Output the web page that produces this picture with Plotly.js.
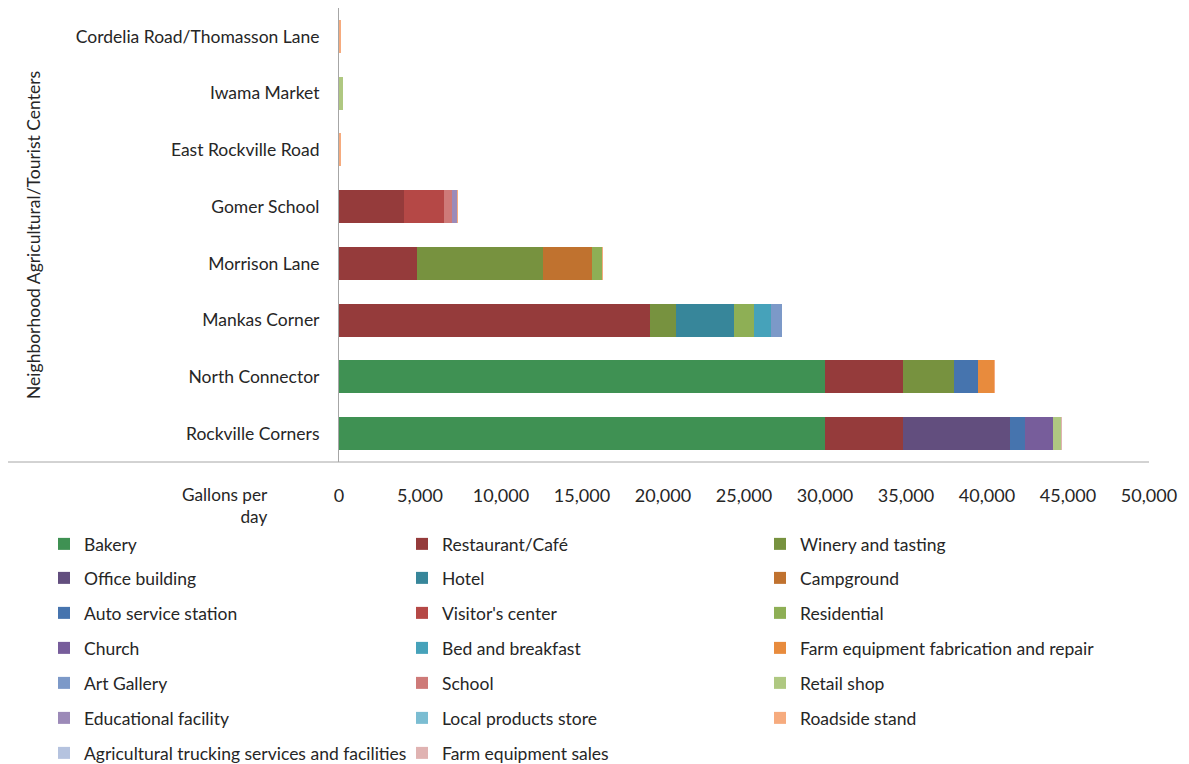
<!DOCTYPE html>
<html>
<head>
<meta charset="utf-8">
<script src="https://cdn.plot.ly/plotly-3.0.1.min.js"></script>
<style>html,body{margin:0;padding:0;background:#fff;}#chart{width:1189px;height:764px;}</style>
</head>
<body>
<div id="chart"></div>
<script>
// Categories (bottom to top)
const centers = ["Rockville Corners", "North Connector", "Mankas Corner", "Morrison Lane",
  "Gomer School", "East Rockville Road", "Iwama Market", "Cordelia Road/Thomasson Lane"];

const seriesNames = ["Bakery", "Restaurant/Café", "Winery and tasting", "Office building", "Hotel",
  "Campground", "Auto service station", "Visitor's center", "Residential", "Church",
  "Bed and breakfast", "Farm equipment fabrication and repair", "Art Gallery", "School",
  "Retail shop", "Educational facility", "Local products store", "Roadside stand",
  "Agricultural trucking services and facilities", "Farm equipment sales"];

const seriesColors = ["#3F9153", "#953B3B", "#77923F", "#624E7E", "#37869A", "#C0722F",
  "#4674AE", "#B54846", "#8EAF55", "#775D9B", "#46A2BA", "#E88B3D", "#7C99C8", "#CE7A78",
  "#AFC881", "#9C8AB8", "#7BBDD2", "#F6AB7E", "#B5C3DF", "#E0B3B2"];

// Gallons per day, in order of `centers`
const bakery        = [30000, 30000, 0, 0, 0, 0, 0, 0];
const restaurant    = [4800, 4800, 19200, 4800, 4000, 0, 0, 0];
const winery        = [0, 3150, 1600, 7800, 0, 0, 0, 0];
const office        = [6600, 0, 0, 0, 0, 0, 0, 0];
const hotel         = [0, 0, 3600, 0, 0, 0, 0, 0];
const campground    = [0, 0, 0, 3000, 0, 0, 0, 0];
const autoService   = [950, 1480, 0, 0, 0, 0, 0, 0];
const visitors      = [0, 0, 0, 0, 2500, 0, 0, 0];
const residential   = [0, 0, 1200, 640, 0, 0, 0, 0];
const church        = [1750, 0, 0, 0, 0, 0, 0, 0];
const bedBreakfast  = [0, 0, 1070, 0, 0, 0, 0, 0];
const farmFab       = [0, 990, 0, 0, 0, 0, 0, 0];
const artGallery    = [0, 0, 700, 0, 0, 0, 0, 0];
const school        = [0, 0, 0, 0, 500, 0, 0, 0];
const retail        = [450, 0, 0, 0, 0, 0, 250, 0];
const educational   = [0, 0, 0, 0, 300, 0, 0, 0];
const localProducts = [0, 0, 0, 0, 0, 0, 0, 0];
const roadside      = [0, 100, 0, 50, 60, 150, 0, 150];
const trucking      = [0, 0, 0, 0, 0, 0, 0, 0];
const farmSales     = [80, 0, 0, 0, 0, 0, 0, 0];

const seriesValues = [bakery, restaurant, winery, office, hotel, campground, autoService,
  visitors, residential, church, bedBreakfast, farmFab, artGallery, school, retail,
  educational, localProducts, roadside, trucking, farmSales];

const xTickVals = [0, 5000, 10000, 15000, 20000, 25000, 30000, 35000, 40000, 45000, 50000];
const xTickText = ["0", "5,000", "10,000", "15,000", "20,000", "25,000", "30,000", "35,000", "40,000", "45,000", "50,000"];

const FONT = "Lato, 'Open Sans', sans-serif";
const TXT = "#262626";

const traces = seriesNames.map((name, i) => {
  const row = Math.floor(i / 3);
  return {
    type: "bar",
    orientation: "h",
    name: name,
    y: centers,
    x: seriesValues[i],
    marker: {color: seriesColors[i], line: {width: 0}},
    legend: row === 0 ? "legend" : "legend" + (row + 1),
    hoverinfo: "name+x"
  };
});

const rowCenters = [544, 578, 613, 648, 683, 718, 753];
const layout = {
  width: 1189,
  height: 764,
  barmode: "stack",
  bargap: 0.42,
  paper_bgcolor: "#fff",
  plot_bgcolor: "#fff",
  font: {family: FONT, color: TXT, size: 17},
  margin: {l: 339, r: 40, t: 8, b: 302, pad: 0, autoexpand: false},
  xaxis: {
    range: [0, 50000],
    tickvals: xTickVals,
    ticktext: xTickText,
    showgrid: false,
    zeroline: false,
    showline: false,
    ticks: "",
    ticklabelstandoff: 21,
    tickfont: {family: FONT, size: 18, color: TXT},
    fixedrange: true
  },
  yaxis: {
    type: "category",
    categoryorder: "array",
    categoryarray: centers,
    showgrid: false,
    zeroline: false,
    showline: true,
    linecolor: "#A6A6A6",
    linewidth: 1,
    ticks: "",
    ticklabelstandoff: 15,
    tickfont: {family: FONT, size: 17.5, color: TXT},
    fixedrange: true
  },
  shapes: [{
    type: "line", xref: "paper", yref: "paper",
    x0: (8 - 339) / 810, x1: 1.0, y0: 0, y1: 0,
    line: {color: "#A6A6A6", width: 1}
  }],
  annotations: [
    {
      text: "Neighborhood Agricultural/Tourist Centers",
      xref: "paper", yref: "paper",
      x: (33 - 339) / 810, y: (462 - 235) / 454,
      xanchor: "center", yanchor: "middle",
      textangle: -90, showarrow: false,
      font: {family: FONT, size: 17.5, color: TXT}
    },
    {
      text: "Gallons per<br>day",
      xref: "paper", yref: "paper",
      x: (270 - 339) / 810, y: (462 - 482) / 454,
      xanchor: "right", yanchor: "top", align: "right",
      showarrow: false,
      font: {family: FONT, size: 17.2, color: TXT}
    }
  ],
  showlegend: true
};

rowCenters.forEach((yc, r) => {
  const key = r === 0 ? "legend" : "legend" + (r + 1);
  layout[key] = {
    orientation: "h",
    xref: "paper", yref: "paper",
    x: (44 - 339) / 810, y: (462 - yc) / 454,
    xanchor: "left", yanchor: "middle",
    entrywidth: 313, entrywidthmode: "pixels",
    font: {family: FONT, size: 17.5, color: TXT},
    bgcolor: "rgba(0,0,0,0)",
    traceorder: "normal"
  };
});

Plotly.newPlot("chart", traces, layout, {displayModeBar: false, staticPlot: true});
</script>
</body>
</html>
